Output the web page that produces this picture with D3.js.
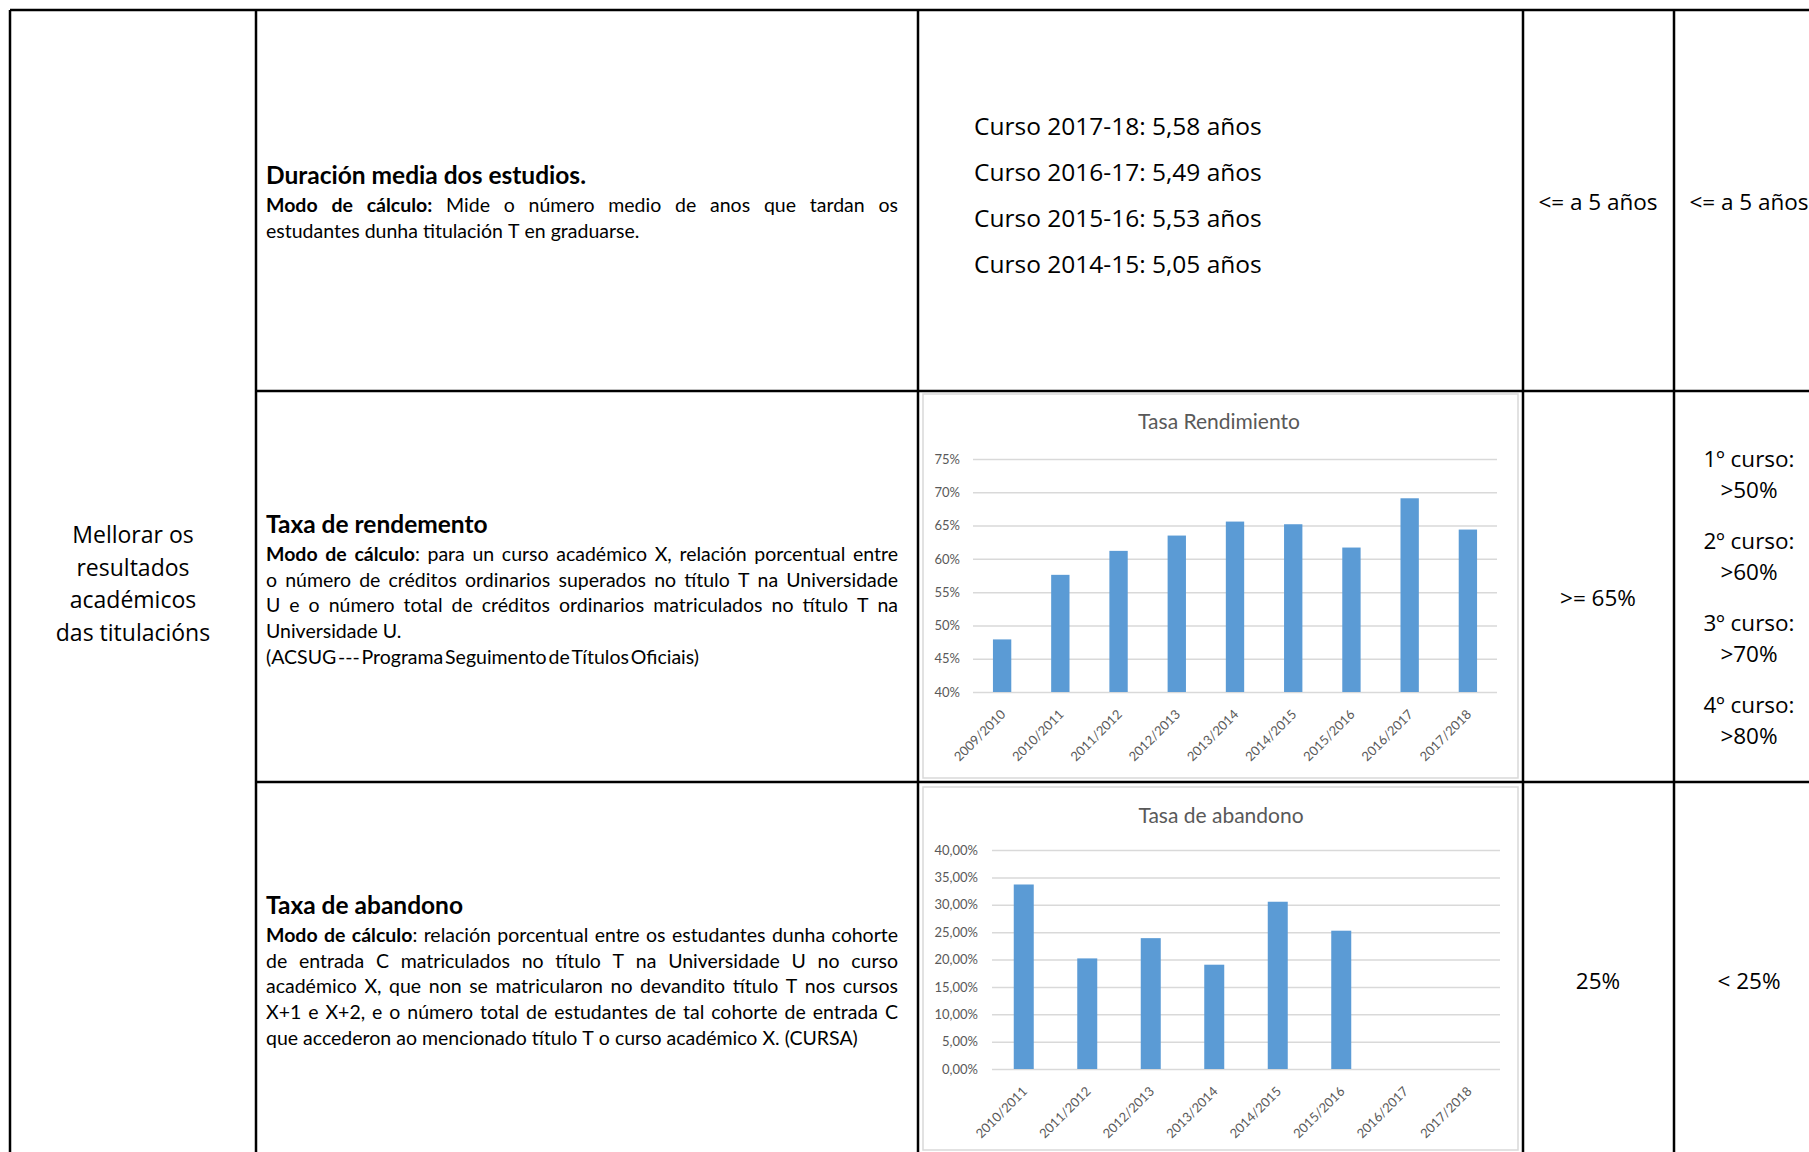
<!DOCTYPE html>
<html>
<head>
<meta charset="utf-8">
<script src="https://cdn.jsdelivr.net/npm/d3@7"></script>
<style>
  body { margin: 0; background: #fff; }
  svg { display: block; }
  .desc { font-family: Lato, sans-serif; font-size: 19.5px; fill: #000; }
  .head { font-family: Lato, sans-serif; font-size: 24.5px; font-weight: bold; fill: #000; }
  .cell { font-family: 'Open Sans', sans-serif; fill: #000; }
  .ctitle { font-family: Lato, sans-serif; font-size: 21px; fill: #595959; }
  .axis text { font-family: Lato, sans-serif; font-size: 13px; fill: #595959; }
</style>
</head>
<body>
<svg id="chart"></svg>
<script>
// --- data ---
const rendCategories = ['2009/2010', '2010/2011', '2011/2012', '2012/2013', '2013/2014',
  '2014/2015', '2015/2016', '2016/2017', '2017/2018'];
const rendValues = [47.9, 57.6, 61.2, 63.5, 65.6, 65.2, 61.7, 69.1, 64.4];
const rendTicks = [40, 45, 50, 55, 60, 65, 70, 75];

const abanCategories = ['2010/2011', '2011/2012', '2012/2013', '2013/2014', '2014/2015',
  '2015/2016', '2016/2017', '2017/2018'];
const abanValues = [33.7, 20.2, 23.9, 19.05, 30.55, 25.26, null, null];
const abanTicks = [0, 5, 10, 15, 20, 25, 30, 35, 40];

const duracionLines = ['Curso 2017-18: 5,58 años', 'Curso 2016-17: 5,49 años',
  'Curso 2015-16: 5,53 años', 'Curso 2014-15: 5,05 años'];
const objectiveLines = ['Mellorar os', 'resultados', 'académicos', 'das titulacións'];
const cursoTargets = ['1º curso:', '>50%', '2º curso:', '>60%', '3º curso:', '>70%', '4º curso:', '>80%'];

// [text, justify, width to fill]
const rows = [
  { head: 'Duración media dos estudios.', lines: [
    ['**Modo de cálculo:** Mide o número medio de anos que tardan os', true],
    ['estudantes dunha titulación T en graduarse.', false]] },
  { head: 'Taxa de rendemento', lines: [
    ['**Modo de cálculo**: para un curso académico X, relación porcentual entre', true],
    ['o número de créditos ordinarios superados no título T na Universidade', true],
    ['U e o número total de créditos ordinarios matriculados no título T na', true],
    ['Universidade U.', false],
    ['(ACSUG --- Programa Seguimento de Títulos Oficiais)', true, 433]] },
  { head: 'Taxa de abandono', lines: [
    ['**Modo de cálculo**: relación porcentual entre os estudantes dunha cohorte', true],
    ['de entrada C matriculados no título T na Universidade U no curso', true],
    ['académico X, que non se matricularon no devandito título T nos cursos', true],
    ['X+1 e X+2, e o número total de estudantes de tal cohorte de entrada C', true],
    ['que accederon ao mencionado título T o curso académico X. (CURSA)', false]] }
];

const W = 1809, H = 1152;
const svg = d3.select('#chart').attr('width', W).attr('height', H);
svg.append('rect').attr('width', W).attr('height', H).attr('fill', '#fff');

// --- table grid ---
const colX = [10, 256, 918, 1523, 1674];
const rowY = [10, 391, 782];
const grid = svg.append('g').attr('stroke', '#000').attr('stroke-width', 2.5);
colX.forEach(x => grid.append('line').attr('x1', x).attr('x2', x).attr('y1', 10).attr('y2', H + 5));
grid.append('line').attr('x1', 10).attr('x2', W + 5).attr('y1', 10).attr('y2', 10);
rowY.slice(1).forEach(y => grid.append('line').attr('x1', 256).attr('x2', W + 5).attr('y1', y).attr('y2', y));

// objective cell
objectiveLines.forEach((t, i) => {
  svg.append('text').attr('class', 'cell').attr('font-size', 23)
    .attr('x', 133).attr('y', 543 + i * 32.5).attr('text-anchor', 'middle').text(t);
});

// description paragraphs, justified by hand
function drawLine(g, str, x, y, width, justify) {
  let bold = false;
  const words = str.split(' ').filter(w => w.length);
  const nodes = words.map(w => {
    const t = g.append('text').attr('class', 'desc').attr('y', y);
    w.split('**').forEach((part, k) => {
      if (k > 0) bold = !bold;
      if (part) t.append('tspan').attr('font-weight', bold ? 'bold' : null).text(part);
    });
    return t;
  });
  const widths = nodes.map(n => n.node().getComputedTextLength());
  const total = d3.sum(widths);
  const gap = justify && nodes.length > 1 ? (width - total) / (nodes.length - 1) : 5;
  let cx = x;
  nodes.forEach((n, i) => { n.attr('x', cx); cx += widths[i] + gap; });
}

const descX = 266, descW = 632;
const headY = [184, 533, 914];
rows.forEach((r, i) => {
  const g = svg.append('g');
  g.append('text').attr('class', 'head').attr('x', descX).attr('y', headY[i]).text(r.head);
  r.lines.forEach((l, j) => drawLine(g, l[0], descX, headY[i] + 28 + j * 25.7, l[2] || descW, l[1]));
});

// duration values
duracionLines.forEach((t, i) => {
  svg.append('text').attr('class', 'cell').attr('font-size', 24.5)
    .attr('x', 974).attr('y', 135 + i * 46).text(t);
});

// target columns
const targets = [[1598, 210, '<= a 5 años'], [1749, 210, '<= a 5 años'],
  [1598, 606, '>= 65%'], [1598, 989, '25%'], [1749, 989, '< 25%']];
targets.forEach(d => svg.append('text').attr('class', 'cell').attr('font-size', 22.5)
  .attr('x', d[0]).attr('y', d[1]).attr('text-anchor', 'middle').text(d[2]));
cursoTargets.forEach((t, i) => {
  const pair = Math.floor(i / 2);
  svg.append('text').attr('class', 'cell').attr('font-size', 22.5)
    .attr('x', 1749).attr('y', 467 + pair * 82 + (i % 2) * 31)
    .attr('text-anchor', 'middle').text(t);
});

// --- bar charts ---
function barChart(cfg) {
  const g = svg.append('g');
  g.append('rect').attr('x', cfg.frame[0]).attr('y', cfg.frame[1])
    .attr('width', cfg.frame[2] - cfg.frame[0]).attr('height', cfg.frame[3] - cfg.frame[1])
    .attr('fill', '#fff').attr('stroke', '#d9d9d9').attr('stroke-width', 1.5);
  g.append('text').attr('class', 'ctitle').attr('x', cfg.titleX).attr('y', cfg.titleY)
    .attr('text-anchor', 'middle').text(cfg.title);

  const x = d3.scaleBand().domain(cfg.categories).range(cfg.xRange)
    .paddingInner(0.685).paddingOuter(0.3425);
  const y = d3.scaleLinear().domain(d3.extent(cfg.ticks)).range(cfg.yRange);
  const plotW = cfg.xRange[1] - cfg.xRange[0];

  const yAxis = g.append('g').attr('class', 'axis')
    .attr('transform', `translate(${cfg.xRange[0]},0)`)
    .call(d3.axisLeft(y).tickValues(cfg.ticks).tickSize(-plotW)
      .tickPadding(cfg.pad).tickFormat(cfg.fmt));
  yAxis.select('.domain').remove();
  yAxis.selectAll('.tick line').attr('stroke', '#d9d9d9').attr('stroke-width', 1.5);
  yAxis.selectAll('.tick text').attr('text-anchor', 'end');

  const data = cfg.categories.map((c, i) => ({ c, v: cfg.values[i] }))
    .filter(d => d.v != null);
  g.selectAll('rect.bar').data(data).join('rect').attr('class', 'bar')
    .attr('x', d => x(d.c)).attr('width', x.bandwidth())
    .attr('y', d => y(d.v)).attr('height', d => y(cfg.ticks[0]) - y(d.v))
    .attr('fill', '#5b9bd5');

  const xAxis = g.append('g').attr('class', 'axis')
    .attr('transform', `translate(0,${cfg.yRange[0]})`)
    .call(d3.axisBottom(x).tickSize(0).tickPadding(0));
  xAxis.select('.domain').remove();
  xAxis.selectAll('.tick text')
    .attr('text-anchor', 'end').attr('dy', '0.35em')
    .attr('transform', 'translate(1,20) rotate(-45)');
}

barChart({
  title: 'Tasa Rendimiento', titleX: 1219, titleY: 429,
  frame: [923, 394, 1518, 778],
  categories: rendCategories, values: rendValues, ticks: rendTicks,
  xRange: [973, 1497], yRange: [692, 459], pad: 13,
  fmt: d => d + '%'
});

barChart({
  title: 'Tasa de abandono', titleX: 1221, titleY: 823,
  frame: [923, 787, 1518, 1150],
  categories: abanCategories, values: abanValues, ticks: abanTicks,
  xRange: [992, 1500], yRange: [1069, 850], pad: 14,
  fmt: d => d.toFixed(2).replace('.', ',') + '%'
});
</script>
</body>
</html>
